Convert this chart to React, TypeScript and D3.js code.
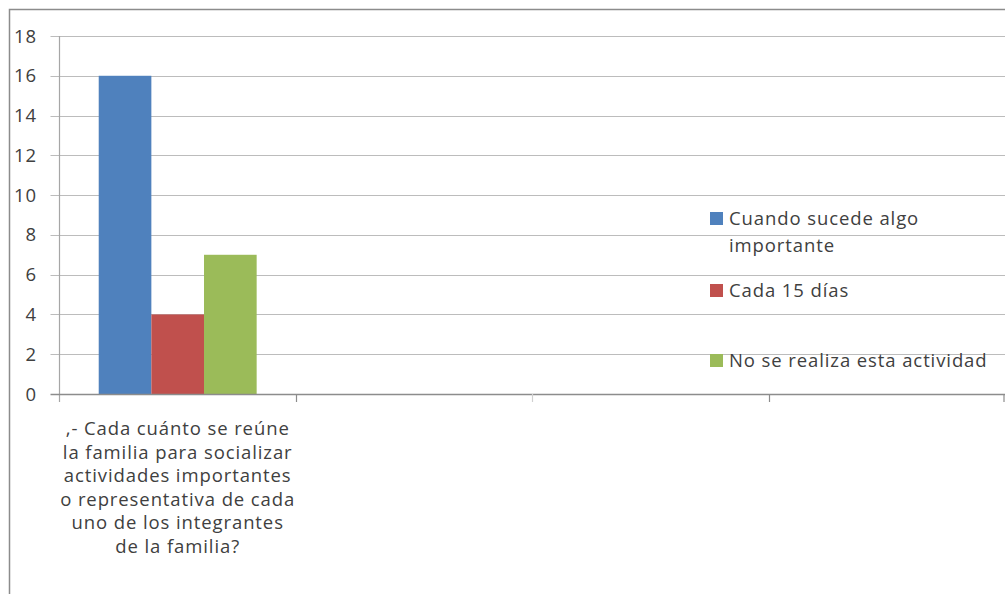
import React, { useEffect, useRef } from 'react';
import * as d3 from 'd3';

// categorias del eje x (solo la primera tiene texto)
const categories = ['c1', 'c2', 'c3', 'c4'];
const categoryLabel = [
    ',- Cada cuánto se reúne',
    'la familia para socializar',
    'actividades importantes',
    'o representativa de cada',
    'uno de los integrantes',
    'de la familia?',
];
const seriesNames = ['Cuando sucede algo importante', 'Cada 15 días', 'No se realiza esta actividad'];
const seriesValues = [16, 4, 7];
const seriesColors = ['#4F81BD', '#C0504D', '#9BBB59'];
const legendLines = [['Cuando sucede algo', 'importante'], ['Cada 15 días'], ['No se realiza esta actividad']];
const yTicks = [0, 2, 4, 6, 8, 10, 12, 14, 16, 18];

const FONT = '"Open Sans", Lato, sans-serif';
const FS = 18.5;
const LS = 0.9;

const App: React.FC = () => {
    const ref = useRef<SVGSVGElement | null>(null);

    useEffect(() => {
        const svg = d3.select(ref.current);
        svg.selectAll('*').remove();

        const left = 59.5;
        const right = 1005;
        const top = 36;
        const bottom = 394;

        const y = d3.scaleLinear().domain([0, 18]).range([bottom, top]);
        const x = d3.scaleBand<string>().domain(categories).range([left, right]).padding(0);
        const xs = d3.scaleBand<string>()
            .domain(seriesNames)
            .range([0, x.bandwidth()])
            .paddingInner(0)
            .paddingOuter(0.745);

        // borde exterior
        svg.append('path')
            .attr('d', `M9.5,594 V9.5 H1005`)
            .attr('fill', 'none')
            .attr('stroke', '#8c8c8c')
            .attr('stroke-width', 1.5);

        // lineas de cuadricula
        svg.append('g')
            .selectAll('line')
            .data(yTicks.filter(d => d > 0))
            .join('line')
            .attr('x1', left - 9)
            .attr('x2', right)
            .attr('y1', d => Math.round(y(d)) + 0.5)
            .attr('y2', d => Math.round(y(d)) + 0.5)
            .attr('stroke', '#bcbcbc')
            .attr('stroke-width', 1.2);

        // etiquetas y
        svg.append('g')
            .selectAll('text')
            .data(yTicks)
            .join('text')
            .attr('x', 37)
            .attr('y', d => y(d) + 6.5)
            .attr('text-anchor', 'end')
            .attr('font-family', FONT)
            .attr('font-size', FS)
            .attr('letter-spacing', LS)
            .attr('fill', '#404040')
            .text(d => d);

        // barras
        svg.append('g')
            .selectAll('rect')
            .data(seriesValues)
            .join('rect')
            .attr('x', (_, i) => (x(categories[0]) as number) + (xs(seriesNames[i]) as number))
            .attr('y', d => y(d))
            .attr('width', xs.bandwidth())
            .attr('height', d => y(0) - y(d))
            .attr('fill', (_, i) => seriesColors[i]);

        // eje y
        svg.append('line')
            .attr('x1', left).attr('x2', left)
            .attr('y1', top).attr('y2', bottom + 8)
            .attr('stroke', '#a6a6a6')
            .attr('stroke-width', 1.2);

        // eje x
        svg.append('line')
            .attr('x1', left - 9).attr('x2', right)
            .attr('y1', bottom + 0.5).attr('y2', bottom + 0.5)
            .attr('stroke', '#8c8c8c')
            .attr('stroke-width', 1.5);
        svg.append('g')
            .selectAll('line')
            .data(categories.slice(1).concat(['end']))
            .join('line')
            .attr('x1', d => d === 'end' ? right - 1 : Math.round(x(d) as number) + 0.5)
            .attr('x2', d => d === 'end' ? right - 1 : Math.round(x(d) as number) + 0.5)
            .attr('y1', bottom)
            .attr('y2', bottom + 8)
            .attr('stroke', (_, i) => i === 1 ? '#d0d0d0' : '#8c8c8c')
            .attr('stroke-width', 1.2);

        // etiqueta de categoria
        const cx = (x(categories[0]) as number) + x.bandwidth() / 2;
        svg.append('text')
            .attr('text-anchor', 'middle')
            .attr('font-family', FONT)
            .attr('font-size', FS)
            .attr('letter-spacing', LS)
            .attr('fill', '#404040')
            .selectAll('tspan')
            .data(categoryLabel)
            .join('tspan')
            .attr('x', cx)
            .attr('y', (_, i) => 435 + i * 23.6)
            .text(d => d);

        // leyenda
        const legendY = [212, 284, 354];
        const lg = svg.append('g');
        legendLines.forEach((lines, i) => {
            lg.append('rect')
                .attr('x', 710)
                .attr('y', legendY[i])
                .attr('width', 13)
                .attr('height', 13)
                .attr('fill', seriesColors[i]);
            lg.append('text')
                .attr('font-family', FONT)
                .attr('font-size', FS)
                .attr('letter-spacing', LS)
                .attr('fill', '#404040')
                .selectAll('tspan')
                .data(lines)
                .join('tspan')
                .attr('x', 729)
                .attr('y', (_, j) => legendY[i] + 13 + j * 27)
                .text(d => d);
        });
    }, []);

    return (
        <svg
            ref={ref}
            width={1005}
            height={594}
            style={{ position: 'absolute', left: 0, top: 0, background: '#fff' }}
        ></svg>
    );
};

export default App;
